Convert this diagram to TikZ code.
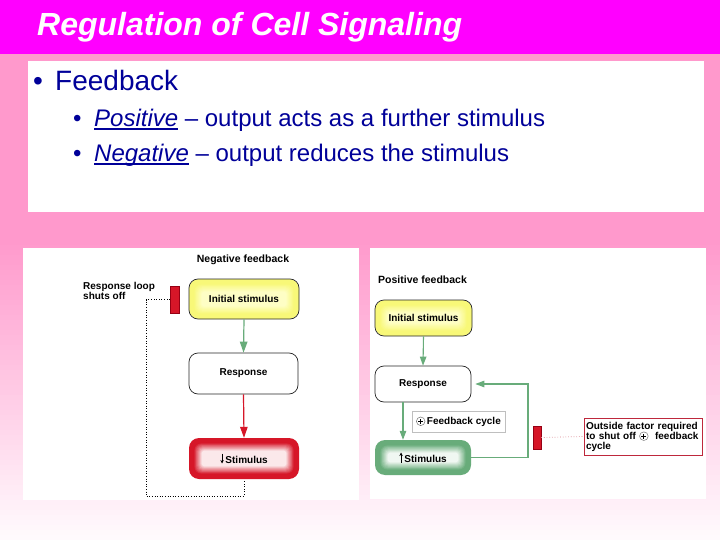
\documentclass[tikz,border=0pt]{standalone}
\usepackage{fontspec}
\setmainfont{Liberation Sans}
\usetikzlibrary{arrows.meta}
\definecolor{titlemag}{RGB}{255,0,255}
\definecolor{bgpink}{RGB}{255,153,204}
\definecolor{bgwhite}{RGB}{255,250,253}
\definecolor{navy}{RGB}{0,0,153}
\definecolor{redc}{RGB}{214,22,40}
\definecolor{redd}{RGB}{150,0,20}
\definecolor{greenc}{RGB}{104,172,122}
\definecolor{yellowc}{RGB}{248,248,120}
\definecolor{yellowl}{RGB}{255,255,205}
\definecolor{annred}{RGB}{190,40,60}
\newcommand\glowfill[6]{%
  \foreach \i in {0,...,14}{%
    \pgfmathtruncatemacro\p{max(0,min(100,100*(15-\i)/10))}%
    \pgfmathsetmacro\r{max(2,10-0.5*\i)}%
    \fill[#5!\p!#6, rounded corners=\r pt] ({#1+\i*0.9},{#2+\i*0.9}) rectangle ({#3-\i*0.9},{#4-\i*0.9});
  }}
\newcommand\myul[1]{\leavevmode\setbox0\hbox{#1}\rlap{\rule[-2.6pt]{\wd0}{1.3pt}}\box0\relax}
\newcommand\cplus{\tikz[baseline=-0.55ex]{\draw[black!55,fill=white,line width=0.5pt] (0,0) circle (4.3pt); \draw[black,line width=0.9pt] (-2.4pt,0)--(2.4pt,0) (0,-2.4pt)--(0,2.4pt);}}
\newcommand\darr{\tikz[baseline=-1pt]\draw[line width=0.8pt,-{Stealth[length=3.5pt,width=3.5pt]}] (0,9pt)--(0,-1pt);}
\newcommand\uarr{\tikz[baseline=-1pt]\draw[line width=0.8pt,-{Stealth[length=3.5pt,width=3.5pt]}] (0,-1pt)--(0,9pt);}
\tikzset{
  lbl/.style={font=\bfseries\fontsize{10}{10.5}\selectfont, inner sep=0pt},
  boxn/.style={draw=black!85, line width=0.7pt, rounded corners=9pt, font=\bfseries\fontsize{10}{11}\selectfont, inner sep=0pt},
  boxg/.style={rounded corners=9pt, font=\bfseries\fontsize{10}{11}\selectfont, inner sep=0pt},
  garrowN/.style={greenc, line width=1.2pt, -{Triangle[length=11pt,width=7.5pt]}},
  rarrowN/.style={redc, line width=1.2pt, -{Triangle[length=11pt,width=7.5pt]}},
  garrowP/.style={greenc, line width=1.1pt, -{Triangle[length=9pt,width=6.5pt]}},
  dotline/.style={black, dotted, line width=0.6pt},
  pinkdot/.style={annred!60, dotted, line width=0.7pt},
  redbar/.style={fill=redc, draw=redd, line width=0.4pt, inner sep=0pt},
  bullettext/.style={text=navy, anchor=base west, inner sep=0pt}
}
\begin{document}
\begin{tikzpicture}[x=1pt,y=-1pt]
\useasboundingbox (0,0) rectangle (720,540);
% background
\fill[titlemag] (0,0) rectangle (720,54);
\fill[bgpink] (0,54) rectangle (720,240);
\foreach \k in {0,...,59}{
  \pgfmathtruncatemacro\q{100-\k*100/59}
  \fill[bgpink!\q!bgwhite] (0,{240+5*\k}) rectangle (720,{245.6+5*\k});
}
% title
\node[anchor=west, text=white, font=\bfseries\itshape\fontsize{32}{36}\selectfont, inner sep=0pt] (title) at (37,27) {Regulation of Cell Signaling};
% text box
\fill[white] (28,61) rectangle (704,212);
\node[bullettext, font=\fontsize{28}{34}\selectfont] (b0) at (33,91) {\textbullet};
\node[bullettext, font=\fontsize{28}{34}\selectfont] (t0) at (55,91) {Feedback};
\node[bullettext, font=\fontsize{24}{28}\selectfont] (b1) at (73,127) {\textbullet};
\node[bullettext, font=\fontsize{24}{28}\selectfont] (t1) at (94,127) {\myul{\textit{Positive}} -- output acts as a further stimulus};
\node[bullettext, font=\fontsize{24}{28}\selectfont] (b2) at (73,162) {\textbullet};
\node[bullettext, font=\fontsize{24}{28}\selectfont] (t2) at (94,162) {\myul{\textit{Negative}} -- output reduces the stimulus};
% panels
\fill[white] (23,248) rectangle (359,500);
\fill[white] (370,248) rectangle (706,499);
% ---------- negative feedback ----------
\node[lbl, font=\bfseries\fontsize{10.5}{12}\selectfont] (ntitle) at (243,260) {Negative feedback};
\glowfill{189}{279}{299}{319}{yellowc}{yellowl}
\node[boxn, minimum width=110pt, minimum height=40pt] (ni) at (244,299) {Initial stimulus};
\node[boxn, fill=white, minimum width=109pt, minimum height=41pt] (nr) at (243.5,373.5) {Response};
\glowfill{189}{438}{299}{479}{redc}{white}
\node[boxg, minimum width=110pt, minimum height=41pt] (ns) at (244,458.5) {\darr\,Stimulus};
\node[redbar, minimum width=9pt, minimum height=27pt] (nbar) at (174.5,299.5) {};
\node[lbl, anchor=north west, align=left] (nlbl) at (83,282) {Response loop\\shuts off};
\coordinate (nd) at (146,496);
\draw[dotline] (nbar.west) -| (nd) -| (ns.south);
\draw[garrowN] (ni.south) -- (nr.north);
\draw[rarrowN] (nr.south) -- (ns.north);
% ---------- positive feedback ----------
\node[lbl, anchor=west, font=\bfseries\fontsize{10.5}{12}\selectfont] (ptitle) at (378,280) {Positive feedback};
\glowfill{375}{300}{472}{336}{yellowc}{yellowl}
\node[boxn, minimum width=97pt, minimum height=36pt] (pi) at (423.5,318) {Initial stimulus};
\node[boxn, fill=white, minimum width=96pt, minimum height=36pt] (pr) at (423,384) {Response};
\glowfill{375}{440}{471}{475}{greenc}{white}
\node[boxg, minimum width=96pt, minimum height=35pt] (ps) at (423,457.5) {\uarr\,Stimulus};
\draw[garrowP] (pi.south) -- (pr.north);
\draw[garrowP] ([xshift=-20pt]pr.south) -- ([xshift=-20pt]ps.north);
\node[draw=black!25, fill=white, line width=0.6pt, minimum width=93pt, minimum height=21pt, inner sep=0pt, font=\bfseries\fontsize{10}{11}\selectfont] (fc) at (458.5,421.5) {\cplus\,Feedback cycle};
\coordinate (lp) at (528,384);
\draw[garrowP] (ps.east) -| (lp) -- ([xshift=4pt]pr.east);
\node[redbar, minimum width=8pt, minimum height=23pt] (pbar) at (537,437.5) {};
\node[draw=annred, fill=white, line width=1pt, minimum width=118pt, minimum height=37pt, text width=114pt, align=left, inner sep=2pt, font=\bfseries\fontsize{10}{10}\selectfont] (ann) at (643,436.5) {Outside factor required\\to shut off \cplus\ \ feedback\\cycle};
\draw[pinkdot] (pbar.east) -- (ann.west);
\end{tikzpicture}
\end{document}
